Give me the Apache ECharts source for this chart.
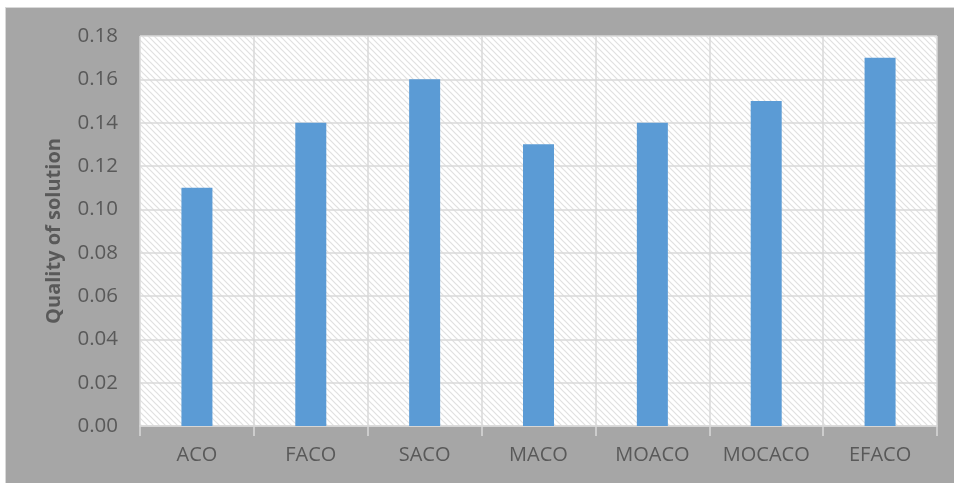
<!DOCTYPE html>
<html lang="en">
<head>
<meta charset="UTF-8">
<title>Quality of solution</title>
<style>
  html, body { margin: 0; padding: 0; background: #fff; }
  #chart {
    position: absolute; left: 5px; top: 7px;
    width: 948px; height: 475px;
    background: #a6a6a6;
    border-left: 1px solid #d9d9d9;
    border-top: 1px solid #d9d9d9;
  }
</style>
</head>
<body>
<div id="chart"></div>
<script src="https://cdn.jsdelivr.net/npm/echarts@6/dist/echarts.min.js"></script>
<script>
// data
var algorithms = ['ACO', 'FACO', 'SACO', 'MACO', 'MOACO', 'MOCACO', 'EFACO']
var quality = [0.11, 0.14, 0.16, 0.13, 0.14, 0.15, 0.17]

// hatched fill for the plot area
function hatch() {
  var c = document.createElement('canvas')
  c.width = 6
  c.height = 6
  var ctx = c.getContext('2d')
  ctx.fillStyle = '#ffffff'
  ctx.fillRect(0, 0, 6, 6)
  ctx.strokeStyle = '#e0e0e0'
  ctx.lineWidth = 1.2
  ctx.beginPath()
  ctx.moveTo(-1, -1); ctx.lineTo(7, 7)
  ctx.moveTo(-1, 5); ctx.lineTo(1, 7)
  ctx.moveTo(5, -1); ctx.lineTo(7, 1)
  ctx.stroke()
  return c
}

var chart = echarts.init(document.getElementById('chart'))
var font = 'Open Sans'
chart.setOption({
  animation: false,
  grid: {
    left: 134, right: 17, top: 28, bottom: 57,
    show: true,
    backgroundColor: { image: hatch(), repeat: 'repeat' },
    borderWidth: 0
  },
  xAxis: {
    type: 'category',
    data: algorithms,
    axisLine: { lineStyle: { color: '#d9d9d9', width: 1.5 } },
    axisTick: { show: true, interval: 0, length: 10, lineStyle: { color: '#d9d9d9', width: 1.5 } },
    axisLabel: { interval: 0, color: '#595959', fontFamily: font, fontSize: 20, margin: 19 },
    splitLine: { show: true, interval: 0, lineStyle: { color: '#d9d9d9', width: 1.5 } }
  },
  yAxis: {
    type: 'value',
    min: 0, max: 0.18, interval: 0.02,
    name: 'Quality of solution',
    nameLocation: 'middle',
    nameGap: 76,
    nameTextStyle: { color: '#595959', fontFamily: font, fontSize: 20, fontWeight: 'bold' },
    axisLine: { show: false },
    axisTick: { show: false },
    axisLabel: {
      color: '#595959', fontFamily: font, fontSize: 20.5, margin: 22,
      formatter: function (v) { return v.toFixed(2) }
    },
    splitLine: { lineStyle: { color: '#d9d9d9', width: 1.5 } }
  },
  series: [{
    type: 'bar',
    data: quality,
    barWidth: 31,
    itemStyle: { color: '#5b9bd5' }
  }]
})
</script>
</body>
</html>
